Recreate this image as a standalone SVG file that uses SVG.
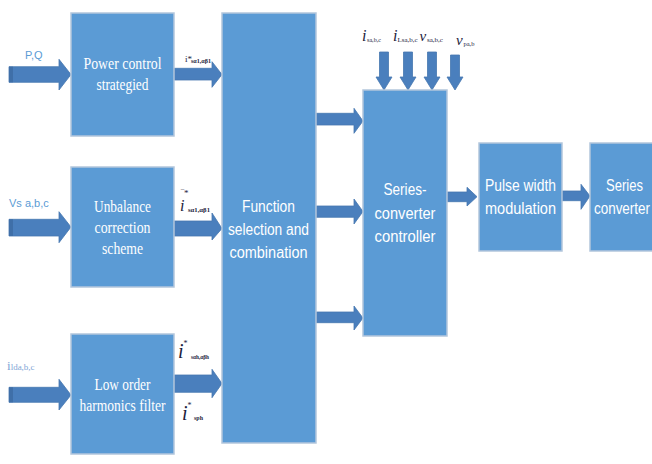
<svg xmlns="http://www.w3.org/2000/svg" width="652" height="464" viewBox="0 0 652 464">
<style>
.box{fill:#5b9bd5;stroke:#b3c6dc;stroke-width:1.5}
.arr{fill:#4a7fbd;stroke:#4677b0;stroke-width:0.8}
.stub{fill:#3f6fa8}
.tser{font-family:"Liberation Serif",serif;font-size:17px;fill:#ffffff;text-anchor:middle}
.tsan{font-family:"Liberation Sans",sans-serif;font-size:16px;fill:#ffffff;text-anchor:middle}
.inl{font-family:"Liberation Sans",sans-serif;font-size:11px;fill:#5b9bd5}
.mi{font-family:"Liberation Serif",serif;font-style:italic;fill:#1c1c3c}
.sub{font-family:"Liberation Serif",serif;font-style:normal;fill:#1c1c3c;font-size:6px}
</style>
<rect width="652" height="464" fill="#ffffff"/>
<g id="connectors">
  <path class="arr" d="M9,66.7 H59 V59.3 L71,74.5 L59,90 V82.3 H9 Z"/>
  <rect class="stub" x="9" y="66.7" width="4" height="15.6"/>
  <path class="arr" d="M9,219.3 H59 V211.7 L71,227 L59,242.7 V236 H9 Z"/>
  <rect class="stub" x="9" y="219.3" width="4" height="16.7"/>
  <path class="arr" d="M9,387.3 H59 V379.3 L71,395 L59,410 V402.3 H9 Z"/>
  <rect class="stub" x="9" y="387.3" width="4" height="15"/>
  <path class="arr" d="M174,68.3 H212 V61.7 L222,74.5 L212,87.3 V80 H174 Z"/>
  <path class="arr" d="M174,221 H212 V213 L222,228.5 L212,240 V236 H174 Z"/>
  <path class="arr" d="M174,375 H212 V369.3 L222,383.5 L212,397.7 V392.3 H174 Z"/>
  <path class="arr" d="M316,113.3 H354 V108.3 L363,121 L354,133.3 V125 H316 Z"/>
  <path class="arr" d="M316,206 H354 V199 L363,211.5 L354,224 V217.3 H316 Z"/>
  <path class="arr" d="M316,312 H354 V306 L363,318 L354,330 V322.7 H316 Z"/>
  <path class="arr" d="M447,192 H467 V187.3 L477,196.7 L467,206 V201.7 H447 Z"/>
  <path class="arr" d="M562,191 H581 V184.3 L590,196 L581,209.3 V200.7 H562 Z"/>
  <path class="arr" d="M379.5,52 H388.5 V77 H392 L384,90 L376,77 H379.5 Z"/>
  <path class="arr" d="M403.5,52 H412.5 V77 H416 L408,90 L400,77 H403.5 Z"/>
  <path class="arr" d="M427.5,52 H436.5 V77 H440 L432,90 L424,77 H427.5 Z"/>
  <path class="arr" d="M450.5,55 H459.5 V77 H463 L455,90 L447,77 H450.5 Z"/>
</g>
<g id="node-power">
  <rect class="box" x="71" y="13" width="103" height="123"/>
  <text class="tser" x="122.5" y="69" textLength="78" lengthAdjust="spacingAndGlyphs">Power control</text>
  <text class="tser" x="122.5" y="90" textLength="52" lengthAdjust="spacingAndGlyphs">strategied</text>
</g>
<g id="node-unbalance">
  <rect class="box" x="71" y="167" width="103" height="120"/>
  <text class="tser" x="122.5" y="212" textLength="57" lengthAdjust="spacingAndGlyphs">Unbalance</text>
  <text class="tser" x="122.5" y="233" textLength="56" lengthAdjust="spacingAndGlyphs">correction</text>
  <text class="tser" x="122.5" y="254" textLength="41" lengthAdjust="spacingAndGlyphs">scheme</text>
</g>
<g id="node-lowharm">
  <rect class="box" x="71" y="334" width="103" height="120"/>
  <text class="tser" x="122.5" y="390" textLength="56" lengthAdjust="spacingAndGlyphs">Low order</text>
  <text class="tser" x="122.5" y="411" textLength="86" lengthAdjust="spacingAndGlyphs">harmonics filter</text>
</g>
<g id="node-function">
  <rect class="box" x="222" y="13" width="94" height="430"/>
  <text class="tsan" x="268.5" y="212" textLength="53" lengthAdjust="spacingAndGlyphs">Function</text>
  <text class="tsan" x="268.5" y="235" textLength="81" lengthAdjust="spacingAndGlyphs">selection and</text>
  <text class="tsan" x="268.5" y="258" textLength="78" lengthAdjust="spacingAndGlyphs">combination</text>
</g>
<g id="node-controller">
  <rect class="box" x="363" y="90" width="84" height="246"/>
  <text class="tsan" x="405" y="195" textLength="43" lengthAdjust="spacingAndGlyphs">Series-</text>
  <text class="tsan" x="405" y="219" textLength="61" lengthAdjust="spacingAndGlyphs">converter</text>
  <text class="tsan" x="405" y="242" textLength="61" lengthAdjust="spacingAndGlyphs">controller</text>
</g>
<g id="node-pwm">
  <rect class="box" x="479" y="143" width="83" height="108"/>
  <text class="tsan" x="520.5" y="191" textLength="71" lengthAdjust="spacingAndGlyphs">Pulse width</text>
  <text class="tsan" x="520.5" y="214" textLength="71" lengthAdjust="spacingAndGlyphs">modulation</text>
</g>
<g id="node-series">
  <rect class="box" x="590" y="143" width="70" height="108"/>
  <text class="tsan" x="624.5" y="191" textLength="37" lengthAdjust="spacingAndGlyphs">Series</text>
  <text class="tsan" x="594" y="214" style="text-anchor:start" textLength="56" lengthAdjust="spacingAndGlyphs">converter</text>
</g>
<g id="labels">
  <text class="inl" x="25" y="59">P,Q</text>
  <text class="inl" x="9" y="207">Vs a,b,c</text>
  <text x="7" y="370" font-family="Liberation Serif,serif" fill="#7fa6d6"><tspan font-size="13">i</tspan><tspan font-size="9" textLength="24" lengthAdjust="spacingAndGlyphs">lda,b,c</tspan></text>
  <text x="185" y="62" class="mi" font-size="9" style="font-style:normal">i*</text>
  <text x="191" y="63" class="sub" font-size="5.5" font-weight="bold" textLength="20" lengthAdjust="spacingAndGlyphs">sα1,αβ1</text>
  <text x="181" y="196" class="sub" style="font-size:9px">‾*</text>
  <text x="180" y="211" class="mi" font-size="16">i</text>
  <text x="188" y="212" class="sub" font-weight="bold" textLength="22" lengthAdjust="spacingAndGlyphs">sα1,αβ1</text>
  <text x="178" y="358" class="mi" font-size="20">i<tspan style="font-style:normal;font-size:8px" dy="-12">*</tspan></text>
  <text x="191" y="359" class="sub" font-weight="bold" textLength="18" lengthAdjust="spacingAndGlyphs">sαh,αβh</text>
  <text x="182" y="420" class="mi" font-size="20">i<tspan style="font-style:normal;font-size:8px" dy="-12">*</tspan></text>
  <text x="194" y="420" class="sub" font-weight="bold" textLength="9" lengthAdjust="spacingAndGlyphs">sph</text>
  <text x="362" y="41" class="mi" font-size="16">i</text>
  <text x="367" y="42" class="sub" textLength="14" lengthAdjust="spacingAndGlyphs">sa,b,c</text>
  <text x="393" y="41" class="mi" font-size="16">i</text>
  <text x="397.5" y="42" class="sub" textLength="20" lengthAdjust="spacingAndGlyphs">Lsa,b,c</text>
  <text x="419.5" y="41" class="mi" font-size="15">v</text>
  <text x="427" y="42" class="sub" textLength="16" lengthAdjust="spacingAndGlyphs">sa,b,c</text>
  <text x="456" y="45" class="mi" font-size="15">v</text>
  <text x="463.5" y="46" class="sub" textLength="11" lengthAdjust="spacingAndGlyphs">pa,b</text>
</g>
</svg>
